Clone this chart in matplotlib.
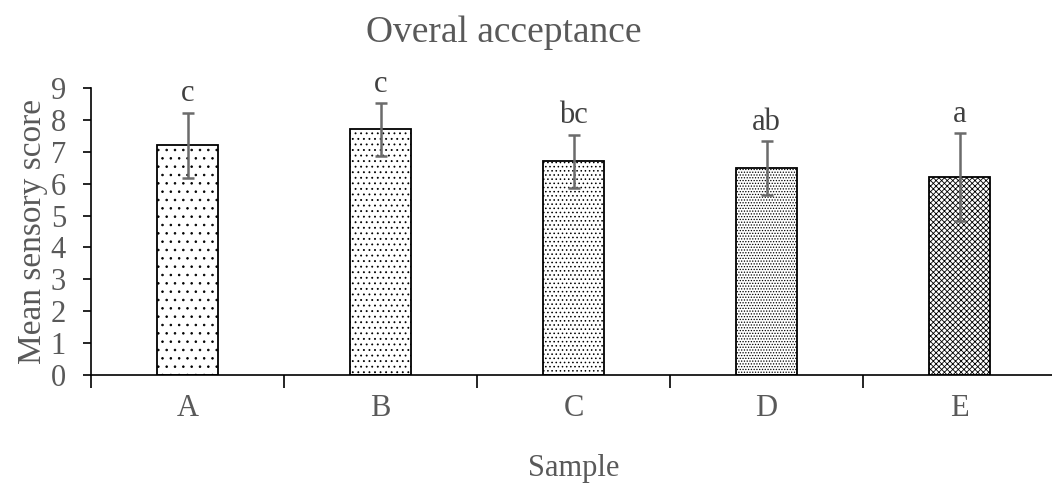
import matplotlib.pyplot as plt
import numpy as np

samples = ['A', 'B', 'C', 'D', 'E']
means = [7.2, 7.7, 6.7, 6.5, 6.2]
errors = [1.03, 0.82, 0.84, 0.84, 1.38]
letters = ['c', 'c', 'bc', 'ab', 'a']
hatches = ['..', '...', '....', '......', 'xxxxxx']

plt.rcParams['font.family'] = ['Liberation Serif', 'DejaVu Serif']
plt.rcParams['hatch.linewidth'] = 0.6
text_color = '#595959'


def plot_chart():
    fig = plt.figure(figsize=(10.52, 4.91), dpi=100)
    ax = fig.add_axes([91 / 1052, 1 - 375 / 491, 965 / 1052, (375 - 88) / 491])

    x = np.arange(len(samples))
    for i in x:
        ax.bar(i, means[i], width=0.315, color='white', edgecolor='black',
               linewidth=1.3, hatch=hatches[i], zorder=2)

    ax.errorbar(x, means, yerr=errors, fmt='none', ecolor='#6b6b6b',
                elinewidth=1.8, capsize=4.5, capthick=1.8, zorder=3)

    for i in x:
        ax.annotate(letters[i], (i, means[i] + errors[i]), xytext=(0, 3),
                    textcoords='offset points', ha='center', va='bottom',
                    fontsize=22, color='#404040')

    ax.set_xlim(-0.5, 4.5)
    ax.set_ylim(0, 9)
    ax.set_yticks(range(0, 10))
    ax.set_xticks(x)
    ax.set_xticklabels(samples)
    ax.set_xticks(np.arange(-0.5, 4.6, 1), minor=True)
    ax.tick_params(axis='x', which='major', length=0, pad=14,
                   labelsize=22, labelcolor=text_color)
    ax.tick_params(axis='x', which='minor', length=9, width=1.2,
                   direction='out')
    ax.tick_params(axis='y', length=6, width=1.2, direction='out', pad=12,
                   labelsize=22, labelcolor=text_color)

    for side in ['top', 'right']:
        ax.spines[side].set_visible(False)
    ax.spines['left'].set_linewidth(1.2)
    ax.spines['bottom'].set_linewidth(1.2)

    ax.set_ylabel('Mean sensory score', fontsize=24, color=text_color,
                  labelpad=2)
    ax.set_xlabel('Sample', fontsize=22, color=text_color, labelpad=22)
    fig.text(504 / 1052, 1 - 33 / 491, 'Overal acceptance', ha='center',
             va='center', fontsize=27, color=text_color)

    plt.savefig('out.png', dpi=100)


if __name__ == "__main__":
    plot_chart()
